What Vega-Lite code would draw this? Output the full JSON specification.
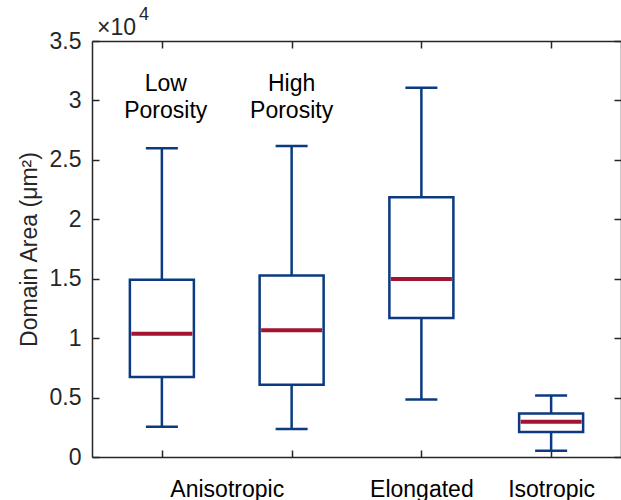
{
  "$schema": "https://vega.github.io/schema/vega-lite/v6.json",
  "width": 529,
  "height": 416,
  "autosize": {"type": "none"},
  "padding": {"left": 92, "top": 41, "right": 0, "bottom": 43},
  "background": "white",
  "config": {
    "view": {"stroke": null},
    "font": "Liberation Sans",
    "axis": {
      "grid": false,
      "domainColor": "#262626",
      "tickColor": "#262626",
      "labelColor": "#262626",
      "titleColor": "#262626",
      "labelFont": "Liberation Sans",
      "titleFont": "Liberation Sans",
      "labelFontSize": 23,
      "titleFontSize": 23,
      "titleFontWeight": "normal",
      "domainWidth": 1.5,
      "tickWidth": 1.5,
      "labelFlush": false,
      "labelOverlap": false
    }
  },
  "datasets": {
    "boxes": [
      {"group": "Low Porosity", "pos": 1, "lower": 2540, "q1": 6740, "median": 10380, "q3": 14920, "upper": 25970},
      {"group": "High Porosity", "pos": 2, "lower": 2350, "q1": 6070, "median": 10660, "q3": 15280, "upper": 26170},
      {"group": "Elongated", "pos": 3, "lower": 4840, "q1": 11700, "median": 14970, "q3": 21860, "upper": 31070},
      {"group": "Isotropic", "pos": 4, "lower": 530, "q1": 2100, "median": 2970, "q3": 3670, "upper": 5180}
    ],
    "notes": [
      {"pos": 1.03, "yv": 30800, "label": "Low\nPorosity"},
      {"pos": 2.0, "yv": 30800, "label": "High\nPorosity"}
    ],
    "exp": [
      {"pos": 0.5, "yv": 35000, "base": "×10", "sup": "4"}
    ]
  },
  "layer": [
    {
      "data": {"name": "boxes"},
      "mark": {"type": "rule", "color": "#0B3A80", "strokeWidth": 2.5},
      "encoding": {
        "x": {"field": "pos", "type": "quantitative",
              "scale": {"domain": [0.5, 4.5], "nice": false, "zero": false},
              "axis": {"orient": "bottom", "values": [1, 2, 3, 4], "labels": false, "tickSize": -7, "title": null}},
        "y": {"field": "lower", "type": "quantitative",
              "scale": {"domain": [0, 35000], "nice": false, "zero": false},
              "axis": {"orient": "left", "values": [0, 5000, 10000, 15000, 20000, 25000, 30000, 35000],
                       "labelExpr": "format(datum.value / 10000, '~g')", "tickSize": -7, "labelPadding": 18,
                       "title": "Domain Area (μm²)", "titlePadding": 8}},
        "y2": {"field": "upper"}
      }
    },
    {
      "data": {"name": "boxes"},
      "mark": {"type": "tick", "orient": "horizontal", "color": "#0B3A80", "opacity": 1, "thickness": 2.5, "size": 32},
      "encoding": {
        "x": {"field": "pos", "type": "quantitative",
              "axis": {"orient": "top", "values": [1, 2, 3, 4], "labels": false, "tickSize": -7, "title": null}},
        "y": {"field": "lower", "type": "quantitative",
              "axis": {"orient": "right", "values": [0, 5000, 10000, 15000, 20000, 25000, 30000, 35000], "labels": false, "tickSize": -7, "title": null}}
      }
    },
    {
      "data": {"name": "boxes"},
      "mark": {"type": "tick", "orient": "horizontal", "color": "#0B3A80", "opacity": 1, "thickness": 2.5, "size": 32},
      "encoding": {
        "x": {"field": "pos", "type": "quantitative", "axis": null},
        "y": {"field": "upper", "type": "quantitative", "axis": null}
      }
    },
    {
      "data": {"name": "boxes"},
      "mark": {"type": "bar", "size": 64, "fill": "white", "stroke": "#0B3A80", "strokeWidth": 2.5, "opacity": 1},
      "encoding": {
        "x": {"field": "pos", "type": "quantitative",
              "axis": {"orient": "bottom", "values": [1.5, 3, 4], "ticks": false, "domain": false,
                       "labelExpr": "datum.value == 1.5 ? 'Anisotropic' : datum.value == 3 ? 'Elongated' : 'Isotropic'",
                       "labelPadding": 21, "labelColor": "black", "title": null}},
        "y": {"field": "q1", "type": "quantitative", "axis": null},
        "y2": {"field": "q3"}
      }
    },
    {
      "data": {"name": "boxes"},
      "mark": {"type": "tick", "orient": "horizontal", "color": "#A2142F", "opacity": 1, "thickness": 4, "size": 61},
      "encoding": {
        "x": {"field": "pos", "type": "quantitative", "axis": null},
        "y": {"field": "median", "type": "quantitative", "axis": null}
      }
    },
    {
      "data": {"name": "notes"},
      "mark": {"type": "text", "fontSize": 23, "color": "black", "align": "center", "baseline": "alphabetic", "lineBreak": "\n", "lineHeight": 27},
      "encoding": {
        "x": {"field": "pos", "type": "quantitative", "axis": null},
        "y": {"field": "yv", "type": "quantitative", "axis": null},
        "text": {"field": "label"}
      }
    },
    {
      "data": {"name": "exp"},
      "mark": {"type": "text", "fontSize": 23, "color": "#262626", "align": "left", "baseline": "alphabetic", "dx": 0, "dy": -6},
      "encoding": {
        "x": {"field": "pos", "type": "quantitative", "axis": null},
        "y": {"field": "yv", "type": "quantitative", "axis": null},
        "text": {"field": "base"}
      }
    },
    {
      "data": {"name": "exp"},
      "mark": {"type": "text", "fontSize": 18, "color": "#262626", "align": "left", "baseline": "alphabetic", "dx": 42, "dy": -21},
      "encoding": {
        "x": {"field": "pos", "type": "quantitative", "axis": null},
        "y": {"field": "yv", "type": "quantitative", "axis": null},
        "text": {"field": "sup"}
      }
    }
  ],
  "resolve": {"axis": {"x": "independent", "y": "independent"}}
}
